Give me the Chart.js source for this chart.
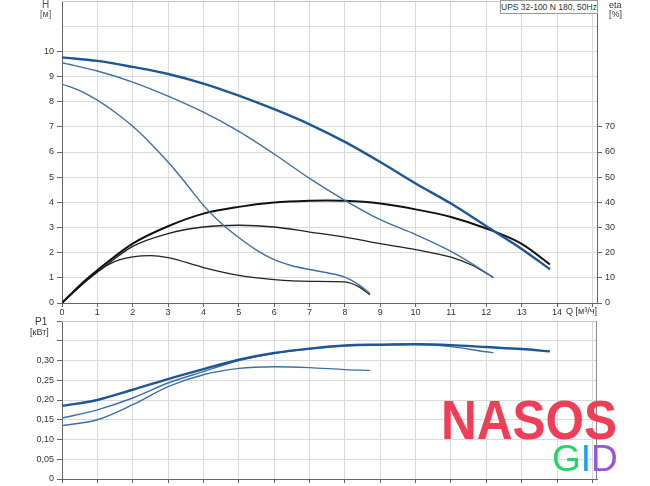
<!DOCTYPE html>
<html>
<head>
<meta charset="utf-8">
<script src="https://cdn.jsdelivr.net/npm/chart.js@4.4.1/dist/chart.umd.min.js"></script>
<style>
  body { margin: 0; background: #fff; font-family: 'Liberation Sans', Arial, sans-serif; }
  #page { position: relative; width: 650px; height: 486px; overflow: hidden; }
  .box { position: absolute; }
  .lbl { position: absolute; font-size: 9px; color: #333; white-space: nowrap; line-height: 10px; }
  #title { position: absolute; left: 500px; top: 0; width: 96px; height: 12px; border: 1px solid #999;
           background: #fff; font-size: 8.5px; line-height: 12px; text-align: center; color: #333; z-index: 2; white-space: nowrap; }
  #nasos { position: absolute; left: 441px; top: 393px; font: bold 55px 'Liberation Sans', Arial, sans-serif;
           line-height: 1; color: #f03e58; transform: scaleX(0.9); transform-origin: left top; white-space: nowrap; }
  #gid { position: absolute; left: 552px; top: 440px; font: 37px 'Liberation Sans', Arial, sans-serif; line-height: 1; white-space: nowrap; }
</style>
</head>
<body>
<div id="page">
  <div class="box" style="left:0;top:0;width:650px;height:318px"><canvas id="curveChart"></canvas></div>
  <div class="box" style="left:0;top:318px;width:650px;height:168px"><canvas id="powerChart"></canvas></div>

  <div class="lbl" style="left:42px;top:0px;color:#5e3a87;font-size:10px">H</div>
  <div class="lbl" style="left:40px;top:9px;color:#555">[м]</div>
  <div class="lbl" style="left:609px;top:0px">eta</div>
  <div class="lbl" style="left:609px;top:9px">[%]</div>
  <div class="lbl" style="left:566px;top:306px">Q [м³/ч]</div>
  <div class="lbl" style="left:35px;top:317px;font-size:10px">P1</div>
  <div class="lbl" style="left:30px;top:327px">[кВт]</div>
  <div id="title">UPS 32-100 N 180, 50Hz</div>

  <div id="nasos">NASOS</div>
  <div id="gid"><span style="color:#27d468">G</span><span style="color:#17a3e9">I</span><span style="color:#9b52df">D</span></div>
</div>

<script>
// Head curves H [м] for the three speeds
const qH3 = [0, 1, 2, 3, 4, 5, 6, 7, 8, 9, 10, 11, 12, 13, 13.8];
const h3 = [9.76, 9.62, 9.38, 9.1, 8.72, 8.24, 7.7, 7.1, 6.4, 5.6, 4.75, 3.95, 3.05, 2.15, 1.34];
const qH2 = [0, 1, 2, 3, 4, 5, 6, 7, 8, 9, 10, 11, 12, 12.2];
const h2 = [9.55, 9.22, 8.78, 8.22, 7.58, 6.82, 5.92, 4.95, 4.08, 3.31, 2.72, 2.05, 1.2, 1.01];
const qH1 = [0, 0.5, 1, 1.5, 2, 2.5, 3, 3.5, 4, 4.5, 5, 5.5, 6, 6.5, 7, 7.5, 8, 8.4, 8.71];
const h1 = [8.7, 8.44, 8.06, 7.58, 7.02, 6.35, 5.6, 4.76, 3.88, 3.17, 2.6, 2.1, 1.72, 1.48, 1.33, 1.2, 1.03, 0.72, 0.37];

// Efficiency curves eta [%]
const qE3 = [0, 0.5, 1, 2, 3, 4, 5, 6, 7, 7.5, 8, 9, 10, 11, 12, 13, 13.8];
const eta3 = [0, 7, 13, 23.6, 30.5, 35.5, 38.2, 39.9, 40.6, 40.7, 40.6, 39.5, 37.2, 34.2, 29.6, 23.5, 15.3];
const qE2 = [0, 0.5, 1, 2, 3, 4, 5, 6, 7, 8, 9, 10, 11, 11.6, 12.2];
const eta2 = [0, 6.5, 12.2, 22.5, 27.6, 30.2, 30.9, 30.2, 28.2, 26.2, 23.6, 21.2, 18.2, 15, 10.1];
const qE1 = [0, 0.5, 1, 1.5, 2, 2.5, 3, 4, 5, 6, 7, 8, 8.4, 8.71];
const eta1 = [0, 6.5, 12.5, 16.5, 18.3, 18.8, 18, 14.1, 11, 9.3, 8.6, 8.4, 6.4, 3.3];

// Power curves P1 [кВт]
const qP3 = [0, 1, 2, 3, 4, 5, 6, 7, 8, 9, 10, 11, 12, 13, 13.8];
const p3 = [0.185, 0.2, 0.226, 0.253, 0.278, 0.302, 0.319, 0.33, 0.338, 0.34, 0.341, 0.339, 0.334, 0.329, 0.323];
const qP2 = [0, 1, 2, 3, 4, 5, 6, 7, 8, 9, 10, 11, 12, 12.2];
const p2 = [0.154, 0.175, 0.205, 0.243, 0.272, 0.3, 0.318, 0.329, 0.337, 0.34, 0.341, 0.335, 0.322, 0.32];
const qP1 = [0, 1, 2, 3, 4, 5, 6, 7, 8, 8.71];
const p1 = [0.135, 0.15, 0.188, 0.234, 0.264, 0.28, 0.284, 0.282, 0.277, 0.275];

const Q_MAX = 15.13;

function pts(xs, ys) {
    return xs.map((x, i) => ({ x: x, y: ys[i] }));
}

function line(data, color, width, axis) {
    return {
        data: data,
        borderColor: color,
        borderWidth: width,
        pointRadius: 0,
        cubicInterpolationMode: 'monotone',
        fill: false,
        yAxisID: axis || 'y'
    };
}

Chart.defaults.font.family = "'Liberation Sans', Arial, sans-serif";
Chart.defaults.font.size = 9;
Chart.defaults.color = '#333';

const gridColor = '#dadada';
const axisColor = '#666';

// fixed axis sizes, no extra room for half labels
function fixW(w) {
    return s => { s.width = w; s.paddingTop = 0; s.paddingBottom = 0; };
}
function fixH(h) {
    return s => { s.height = h; s.paddingLeft = 0; s.paddingRight = 0; };
}

// draws the light frame lines the axes don't cover
const framePlugin = {
    id: 'frame',
    beforeDatasetsDraw(chart, args, opts) {
        const a = chart.chartArea;
        const ctx = chart.ctx;
        ctx.save();
        ctx.lineWidth = 1;
        ctx.strokeStyle = opts.top || '#bbb';
        ctx.beginPath();
        ctx.moveTo(a.left, a.top + 0.5);
        ctx.lineTo(a.right, a.top + 0.5);
        ctx.stroke();
        if (opts.right) {
            ctx.strokeStyle = opts.right;
            ctx.beginPath();
            ctx.moveTo(a.right - 0.5, a.top);
            ctx.lineTo(a.right - 0.5, a.bottom);
            ctx.stroke();
        }
        ctx.restore();
    }
};

const xAxis = (showLabels, height) => ({
    type: 'linear',
    min: 0,
    max: Q_MAX,
    ticks: {
        stepSize: 1,
        includeBounds: false,
        autoSkip: false,
        maxRotation: 0,
        padding: 0,
        display: showLabels,
        callback: v => (v <= 14 ? v : '')
    },
    grid: { color: gridColor, tickColor: axisColor, tickLength: 4 },
    border: { color: axisColor },
    afterFit: fixH(height)
});

new Chart(document.getElementById('curveChart'), {
    type: 'line',
    data: {
        datasets: [
            line(pts(qH3, h3), '#1d5796', 2.4),
            line(pts(qH2, h2), '#3f6fa8', 1.4),
            line(pts(qH1, h1), '#3f6fa8', 1.4),
            line(pts(qE3, eta3), '#111', 2, 'y2'),
            line(pts(qE2, eta2), '#222', 1.3, 'y2'),
            line(pts(qE1, eta1), '#222', 1.3, 'y2')
        ]
    },
    options: {
        responsive: true,
        maintainAspectRatio: false,
        animation: false,
        layout: { autoPadding: false, padding: { top: 1 } },
        plugins: { legend: { display: false }, tooltip: { enabled: false }, frame: { top: '#c8c8c8' } },
        scales: {
            x: xAxis(true, 15),
            y: {
                min: 0,
                max: 12,
                ticks: { stepSize: 1, padding: 3, callback: v => (v <= 10 ? v : '') },
                grid: {
                    color: gridColor,
                    tickLength: 5,
                    tickColor: c => (c.tick && c.tick.value <= 10 ? axisColor : 'rgba(0,0,0,0)')
                },
                border: { color: axisColor },
                afterFit: fixW(62)
            },
            y2: {
                position: 'right',
                min: 0,
                max: 120,
                ticks: { stepSize: 10, padding: 3, callback: v => (v <= 70 ? v : '') },
                grid: {
                    drawOnChartArea: false,
                    tickLength: 5,
                    tickColor: c => (c.tick && c.tick.value <= 70 ? axisColor : 'rgba(0,0,0,0)')
                },
                border: { color: axisColor },
                afterFit: fixW(53)
            }
        }
    },
    plugins: [framePlugin]
});

new Chart(document.getElementById('powerChart'), {
    type: 'line',
    data: {
        datasets: [
            line(pts(qP3, p3), '#1d5796', 2.4),
            line(pts(qP2, p2), '#3f6fa8', 1.4),
            line(pts(qP1, p1), '#3f6fa8', 1.4)
        ]
    },
    options: {
        responsive: true,
        maintainAspectRatio: false,
        animation: false,
        layout: { autoPadding: false, padding: { top: 3, right: 53 } },
        plugins: { legend: { display: false }, tooltip: { enabled: false }, frame: { top: '#c8c8c8', right: '#888' } },
        scales: {
            x: xAxis(false, 7),
            y: {
                min: 0,
                max: 0.4,
                ticks: {
                    stepSize: 0.05,
                    padding: 3,
                    callback: v => {
                        const r = Math.round(v * 100) / 100;
                        if (r > 0.3) return '';
                        return r === 0 ? '0' : r.toFixed(2).replace('.', ',');
                    }
                },
                grid: { color: gridColor, tickLength: 5, tickColor: axisColor },
                border: { color: axisColor },
                afterFit: fixW(62)
            }
        }
    },
    plugins: [framePlugin]
});
</script>
</body>
</html>
